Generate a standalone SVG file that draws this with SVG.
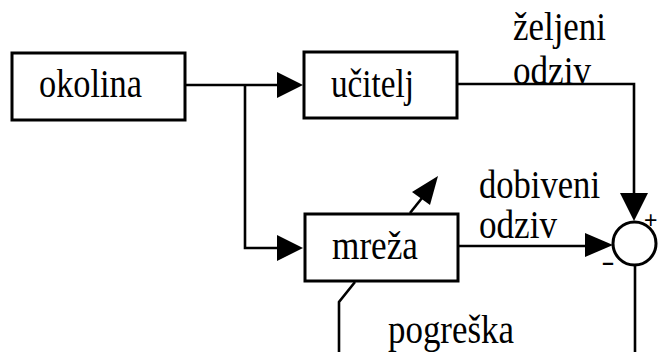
<svg xmlns="http://www.w3.org/2000/svg" width="659" height="352" viewBox="0 0 659 352">
<style>
.box{fill:#fff;stroke:#000;stroke-width:3}
.ln{fill:none;stroke:#000;stroke-width:2.6}
.ah{fill:#000;stroke:none}
.t{font-family:'Liberation Serif','Times New Roman',serif;font-size:39px;fill:#000}
.s{font-family:'Liberation Sans',Arial,sans-serif;fill:#000}
</style>
<rect width="659" height="352" fill="#fff"/>
<g id="connectors">
<polyline class="ln" points="186,85 279,85"/>
<polygon class="ah" points="277,72 303,85 277,98"/>
<polyline class="ln" points="245,85 245,248 279,248"/>
<polygon class="ah" points="277,235 303,248 277,261"/>
<polyline class="ln" points="457,84 634,84 634,195"/>
<polygon class="ah" points="620,193 634,221 648,193"/>
<polyline class="ln" points="459,246 587,246"/>
<polygon class="ah" points="585,233 613,245 585,257"/>
<polyline class="ln" points="410,213 422,198"/>
<polygon class="ah" points="438,176 412,192 430,205"/>
<polyline class="ln" points="635,266 635,352"/>
<polyline class="ln" points="355,282 339,302 339,352"/>
</g>
<g id="okolina">
<rect class="box" x="12" y="53" width="173" height="67"/>
<text class="t" x="39" y="97" textLength="103" lengthAdjust="spacingAndGlyphs">okolina</text>
</g>
<g id="ucitelj">
<rect class="box" x="304" y="52" width="153" height="66"/>
<text class="t" x="331" y="97" textLength="83" lengthAdjust="spacingAndGlyphs">učitelj</text>
</g>
<g id="mreza">
<rect class="box" x="305" y="214" width="153" height="67"/>
<text class="t" x="332" y="259" textLength="86" lengthAdjust="spacingAndGlyphs">mreža</text>
</g>
<g id="sum">
<circle cx="634.5" cy="243.5" r="21.5" fill="#fff" stroke="#000" stroke-width="3"/>
<text class="s" x="644" y="228" font-size="23">+</text>
<text class="s" x="601" y="271.5" font-size="30" textLength="14" lengthAdjust="spacingAndGlyphs">-</text>
</g>
<g id="labels">
<text class="t" x="513" y="40" textLength="93" lengthAdjust="spacingAndGlyphs">željeni</text>
<text class="t" x="513" y="84" textLength="78" lengthAdjust="spacingAndGlyphs">odziv</text>
<text class="t" x="479" y="198" textLength="121" lengthAdjust="spacingAndGlyphs">dobiveni</text>
<text class="t" x="479" y="238" textLength="78" lengthAdjust="spacingAndGlyphs">odziv</text>
<text class="t" x="388" y="343" textLength="126" lengthAdjust="spacingAndGlyphs">pogreška</text>
</g>
</svg>
